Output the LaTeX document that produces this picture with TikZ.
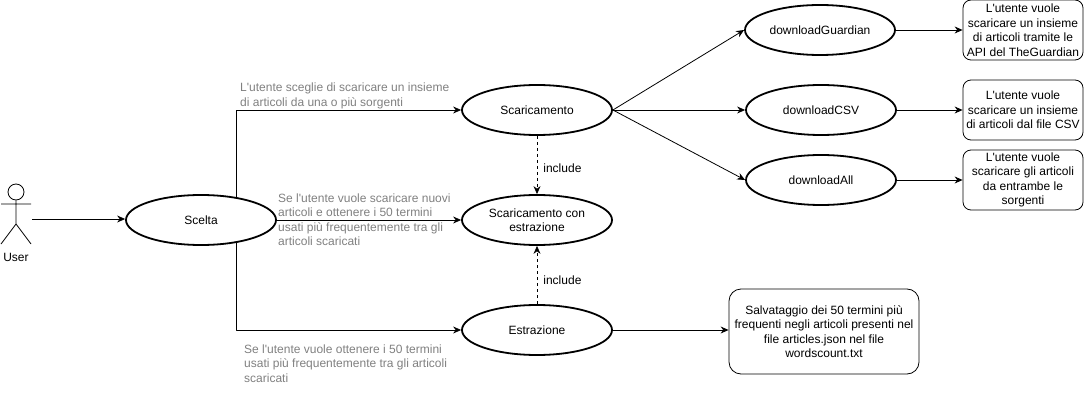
\documentclass[tikz,border=0pt]{standalone}
\usepackage{fontspec}
\setmainfont[Ligatures=TeXOff]{Liberation Sans}
\usetikzlibrary{arrows.meta,shapes.geometric}
\definecolor{notegray}{HTML}{808080}
\tikzset{
    usecase/.style={draw,ellipse,line width=1.8pt,minimum width=150pt,minimum height=50pt,
        inner sep=0pt,align=center,font=\fontsize{12}{14.5}\selectfont},
    descbox/.style={draw,rounded corners=8pt,line width=0.8pt,inner sep=0pt,align=center,
        font=\fontsize{12}{14.5}\selectfont},
    note/.style={inner sep=0pt,anchor=north west,align=left,text=notegray,
        font=\fontsize{12}{14.5}\selectfont},
    plain/.style={inner sep=0pt,font=\fontsize{12}{14.5}\selectfont},
    link/.style={line width=0.8pt,-{Stealth[length=8pt,width=7pt]}},
    inclink/.style={link,dashed,dash pattern=on 3pt off 3pt}
}
\begin{document}
\begin{tikzpicture}[x=1pt,y=-1pt,line join=round]
    \useasboundingbox (0,0) rectangle (1084,406);
    % actor
    \node[draw,circle,line width=0.8pt,minimum size=16pt,inner sep=0pt] (head) at (16,192) {};
    \coordinate (hip) at (16,224);
    \draw[line width=0.8pt] (head.south) -- (hip) (1,204) -- (31,204) (1,244) -- (hip) -- (31,244);
    \node[plain] (actorlabel) at (16,257) {User};
    \node[inner sep=0pt,minimum width=32pt,minimum height=54pt] (user) at (16,219) {};
    % use cases
    \node[usecase] (scelta) at (201,220) {Scelta};
    \node[usecase] (scaricamento) at (537,110) {Scaricamento};
    \node[usecase] (entrambi) at (537,220) {Scaricamento con\\estrazione};
    \node[usecase] (estrazione) at (537,330) {Estrazione};
    \node[usecase] (guardian) at (820,30) {downloadGuardian};
    \node[usecase] (csv) at (821,110) {downloadCSV};
    \node[usecase] (all) at (821,180) {downloadAll};
    % descriptions
    \node[descbox,minimum width=120pt,minimum height=60pt] (descguardian) at (1023,30)
        {L'utente vuole\\scaricare un insieme\\di articoli tramite le\\API del TheGuardian};
    \node[descbox,minimum width=120pt,minimum height=60pt] (desccsv) at (1023,110)
        {L'utente vuole\\scaricare un insieme\\di articoli dal file CSV};
    \node[descbox,minimum width=120pt,minimum height=60pt] (descall) at (1023,180)
        {L'utente vuole\\scaricare gli articoli\\da entrambe le\\sorgenti};
    \node[descbox,minimum width=190pt,minimum height=85pt,rounded corners=12pt] (descestr) at (824,331.5)
        {Salvataggio dei 50 termini più\\frequenti negli articoli presenti nel\\file articles.json nel file\\wordscount.txt};
    % connectors
    \draw[link] (user.east) -- (scelta.west |- user.east);
    \draw[link] (scelta.33) |- (scaricamento.west);
    \draw[link] (scelta.east) -- (entrambi.west);
    \draw[link] (scelta.-33) |- (estrazione.west);
    \foreach \uc in {guardian, csv, all}
        \draw[link] (scaricamento.east) -- (\uc.west);
    \draw[link] (guardian.east) -- (descguardian.west);
    \draw[link] (csv.east) -- (desccsv.west);
    \draw[link] (all.east) -- (descall.west);
    \draw[link] (estrazione.east) -- (descestr.west |- estrazione.east);
    \draw[inclink] (scaricamento.south) -- node[plain,right=6pt,yshift=-3pt] (inc1) {include} (entrambi.north);
    \draw[inclink] (estrazione.north) -- node[plain,right=6pt,yshift=-5pt] (inc2) {include} (entrambi.south);
    % notes
    \node[note] (note1) at (240,83) {L'utente sceglie di scaricare un insieme\\di articoli da una o più sorgenti};
    \node[note] (note2) at (278,193.5) {Se l'utente vuole scaricare nuovi\\articoli e ottenere i 50 termini\\usati più frequentemente tra gli\\articoli scaricati};
    \node[note] (note3) at (244,344.5) {Se l'utente vuole ottenere i 50 termini\\usati più frequentemente tra gli articoli\\scaricati};
\end{tikzpicture}
\end{document}
